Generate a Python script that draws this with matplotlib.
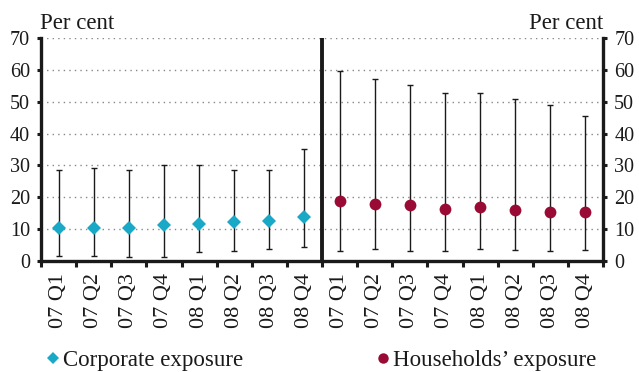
"""
Corporate and household exposure ranges by quarter, 2007-2008.
"""

import matplotlib.pyplot as plt
from matplotlib.lines import Line2D
import numpy as np

plt.rcParams['font.family'] = ['Liberation Serif', 'DejaVu Serif']

# Data
quarters = ['07 Q1', '07 Q2', '07 Q3', '07 Q4', '08 Q1', '08 Q2', '08 Q3', '08 Q4']

corp_mid = [10.2, 10.4, 10.3, 11.2, 11.6, 12.3, 12.5, 13.9]
corp_high = [28.5, 29.2, 28.5, 30.2, 30.0, 28.7, 28.7, 35.3]
corp_low = [1.6, 1.6, 1.4, 1.4, 2.9, 3.2, 3.7, 4.4]

hh_mid = [18.8, 17.9, 17.7, 16.2, 16.8, 15.9, 15.4, 15.4]
hh_high = [59.5, 57.2, 55.1, 52.7, 52.7, 50.9, 48.9, 45.4]
hh_low = [3.2, 3.7, 3.2, 3.2, 3.7, 3.5, 3.2, 3.5]

corp_color = '#19a9c6'
hh_color = '#990b35'
ink = '#1a1a1a'

fig = plt.figure(figsize=(6.39, 3.72), dpi=100)
ax = fig.add_axes([0.0642, 0.2984, 0.8795, 0.5996])

n = len(quarters)
x_corp = np.arange(n)
x_hh = np.arange(n) + n

def draw_group(xs, mid, low, high, marker, color, ms):
    mid = np.array(mid)
    yerr = [mid - np.array(low), np.array(high) - mid]
    ax.errorbar(xs, mid, yerr=yerr, fmt='none', ecolor=ink,
                elinewidth=1.0, capsize=2.5, capthick=1.0, zorder=2)
    ax.plot(xs, mid, linestyle='none', marker=marker, color=color,
            markersize=ms, markeredgewidth=0, zorder=3)

draw_group(x_corp, corp_mid, corp_low, corp_high, 'D', corp_color, 7)
draw_group(x_hh, hh_mid, hh_low, hh_high, 'o', hh_color, 8.5)

# Divider between the two panels
ax.axvline(n - 0.5, color=ink, linewidth=2.8, zorder=4)

ax.set_xlim(-0.5, 2 * n - 0.5)
ax.set_ylim(0, 70)

# Axes styling
for side in ['left', 'right', 'bottom']:
    ax.spines[side].set_linewidth(2.4)
    ax.spines[side].set_color(ink)
ax.spines['top'].set_visible(False)

ax.set_yticks(np.arange(0, 71, 10))
ax.yaxis.grid(True, linestyle=(0, (1, 3)), color='#888888', linewidth=1.0)
ax.set_axisbelow(True)
ax.tick_params(axis='y', which='major', direction='out', length=3, width=2.2,
               left=True, right=True, labelleft=True, labelright=True,
               labelsize=14.5, pad=5, colors=ink)

# x tick labels at category centres, tick marks at boundaries
ax.set_xticks(np.arange(2 * n))
ax.set_xticklabels(quarters + quarters, rotation=90, fontsize=16)
ax.set_xticks(np.arange(-0.5, 2 * n, 1.0), minor=True)
ax.tick_params(axis='x', which='major', length=0, pad=9, colors=ink)
ax.tick_params(axis='x', which='minor', direction='out', length=4.5, width=2.2,
               colors=ink)

fig.text(0.0626, 0.922, 'Per cent', fontsize=16.5, ha='left', va='baseline',
         color=ink)
fig.text(0.9437, 0.922, 'Per cent', fontsize=16.5, ha='right', va='baseline',
         color=ink)

corp_handle = Line2D([], [], linestyle='none', marker='D', color=corp_color,
                     markersize=6.5, markeredgewidth=0, label='Corporate exposure')
hh_handle = Line2D([], [], linestyle='none', marker='o', color=hh_color,
                   markersize=7.5, markeredgewidth=0,
                   label='Households\u2019 exposure')

legend_kw = dict(loc='center left', frameon=False, fontsize=16.5,
                 handletextpad=0.15, handlelength=0.6, borderpad=0,
                 borderaxespad=0, labelcolor=ink)
fig.legend(handles=[corp_handle], bbox_to_anchor=(0.072, 0.03), **legend_kw)
fig.legend(handles=[hh_handle], bbox_to_anchor=(0.588, 0.03), **legend_kw)

fig.savefig('out.png', dpi=100)
plt.close(fig)
